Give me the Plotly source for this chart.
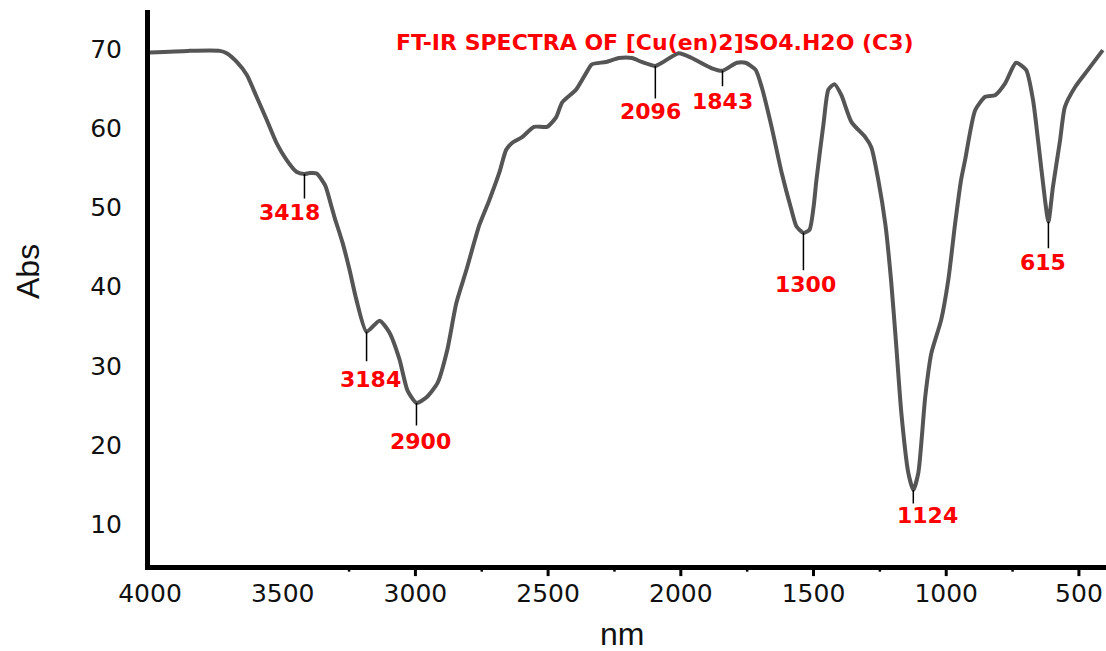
import plotly.graph_objects as go

# FT-IR spectrum of [Cu(en)2]SO4.H2O (sample C3)
wavenumber = [
    4000, 3857, 3737, 3711, 3673, 3635, 3598, 3560, 3523, 3485, 3447, 3418,
    3398, 3372, 3340, 3316, 3305, 3274, 3248, 3222, 3184, 3135, 3098,
    3060, 3030, 2996, 2959, 2917, 2880, 2846, 2808, 2759, 2722, 2684, 2658,
    2635, 2598, 2553, 2504, 2470, 2447, 2395, 2357, 2335, 2282, 2233, 2184,
    2147, 2096, 2071, 2008, 1959, 1883, 1843, 1789, 1756, 1718, 1695, 1658,
    1620, 1583, 1564, 1538, 1515, 1500, 1489, 1462, 1444, 1421, 1395, 1357,
    1305, 1282, 1256, 1229, 1207, 1188, 1169, 1143, 1124, 1105, 1079, 1056,
    1019, 992, 966, 944, 929, 891, 853, 816, 778, 737, 699, 673, 654, 628,
    615, 598, 571, 553, 515, 466, 410,
]
absorbance = [
    69.6, 69.8, 69.8, 69.5, 68.4, 66.75, 63.97, 61.06, 58.15, 56.0, 54.49, 54.24,
    54.36, 54.3, 52.8, 50.1, 48.8, 45.5, 42.1, 38.3, 34.3, 35.7, 34.2,
    30.8, 26.9, 25.3, 26.0, 27.8, 32.0, 37.9, 42.1, 47.8, 50.9, 54.4, 57.3,
    58.2, 58.9, 60.2, 60.2, 61.4, 63.3, 64.9, 67.0, 68.1, 68.4, 68.9, 68.9,
    68.4, 67.9, 68.3, 69.5, 68.9, 67.6, 67.3, 68.3, 68.3, 67.4, 65.2, 60.2,
    54.4, 49.7, 47.6, 46.8, 47.2, 50.0, 53.5, 60.7, 64.9, 65.6, 64.2, 60.8,
    58.9, 57.6, 53.5, 47.8, 40.5, 32.4, 24.0, 16.5, 14.3, 16.5, 26.1, 31.6,
    35.8, 40.9, 48.1, 53.5, 56.0, 62.3, 64.0, 64.2, 65.7, 68.3, 67.4, 63.6, 58.5, 51.0,
    48.2, 52.6, 58.5, 62.7, 65.2, 67.4, 69.9,
]

# Marked bands: label text, band position on the trace, trace value there
peak_labels = ["3418", "3184", "2900", "2096", "1843", "1300", "1124", "615"]
peak_x = [3418, 3184, 2996, 2096, 1843, 1538, 1124, 615]
peak_y = [54.24, 34.3, 25.3, 67.9, 67.3, 46.8, 14.3, 48.2]

# Axis ticks
x_label_vals = [4000, 3500, 3000, 2500, 2000, 1500, 1000, 500]
x_major_marks = [3000, 2500, 2000, 1500, 1000, 500]
x_minor_marks = [3250, 2750, 2250, 1750, 1250, 750]
y_label_vals = [10, 20, 30, 40, 50, 60, 70]

# Leader-line length and label offsets (pixels) for each band label
leader_len = [26, 31, 24, 34, 17, 39, 15, 28]
label_dy = [38, 48, 39, 46, 31, 52, 25, 41]
label_dx = [-15, 4, 4, -5, 0, 2, 14, -5]

RED = "#ff0000"
LABEL_FONT = dict(family="DejaVu Sans", size=22, color=RED)
TICK_FONT = dict(family="DejaVu Sans", size=25, color="#111111")

fig = go.Figure()
fig.add_trace(go.Scatter(
    x=wavenumber, y=absorbance, mode="lines",
    line=dict(color="#555555", width=4, shape="spline", smoothing=0.6),
    hoverinfo="x+y", showlegend=False,
))

annotations = []
for lab, xv, yv, ln, dy, dx in zip(peak_labels, peak_x, peak_y,
                                   leader_len, label_dy, label_dx):
    annotations.append(dict(
        x=xv, y=yv, xref="x", yref="y", text="", showarrow=True,
        arrowhead=0, arrowwidth=1.5, arrowcolor="#000000", ax=0, ay=ln,
    ))
    annotations.append(dict(
        x=xv, y=yv, xref="x", yref="y", text="<b>%s</b>" % lab,
        showarrow=False, yshift=-dy, xshift=dx, yanchor="middle",
        xanchor="center", font=LABEL_FONT,
    ))

annotations.append(dict(
    x=-0.1276, y=0.528, xref="paper", yref="paper", text="Abs",
    textangle=-90, showarrow=False, xanchor="center", yanchor="middle",
    font=dict(family="Liberation Sans", size=32, color="#111111"),
))
annotations.append(dict(
    x=0.494, y=-0.124, xref="paper", yref="paper", text="nm",
    showarrow=False, xanchor="center", yanchor="middle",
    font=dict(family="Liberation Sans", size=32, color="#111111"),
))

shapes = []
for v in x_major_marks:
    shapes.append(dict(type="line", xref="x", yref="paper", x0=v, x1=v,
                       y0=0, y1=-0.02, line=dict(color="#000000", width=3)))
for v in x_minor_marks:
    shapes.append(dict(type="line", xref="x", yref="paper", x0=v, x1=v,
                       y0=0, y1=-0.012, line=dict(color="#000000", width=2.5)))

fig.update_layout(
    width=1106, height=651,
    margin=dict(l=150, r=0, t=10, b=86),
    paper_bgcolor="white", plot_bgcolor="white",
    title=dict(
        text="<b>FT-IR SPECTRA OF [Cu(en)2]SO4.H2O (C3)</b>",
        x=0.592, xanchor="center", y=0.935, yanchor="middle",
        font=dict(family="DejaVu Sans", size=22, color=RED),
    ),
    xaxis=dict(
        range=[4000, 398], showgrid=False, zeroline=False,
        showline=True, linecolor="#000000", linewidth=5,
        tickmode="array", tickvals=x_label_vals,
        ticktext=[str(v) for v in x_label_vals], ticks="",
        ticklabelstandoff=2,
        tickfont=TICK_FONT,
    ),
    yaxis=dict(
        range=[4.82, 74.97], showgrid=False, zeroline=False,
        showline=True, linecolor="#000000", linewidth=5,
        tickmode="array", tickvals=y_label_vals,
        ticktext=[str(v) for v in y_label_vals], ticks="",
        ticklabelstandoff=18,
        tickfont=TICK_FONT,
    ),
    annotations=annotations,
    shapes=shapes,
)

fig.write_html("out.html")
